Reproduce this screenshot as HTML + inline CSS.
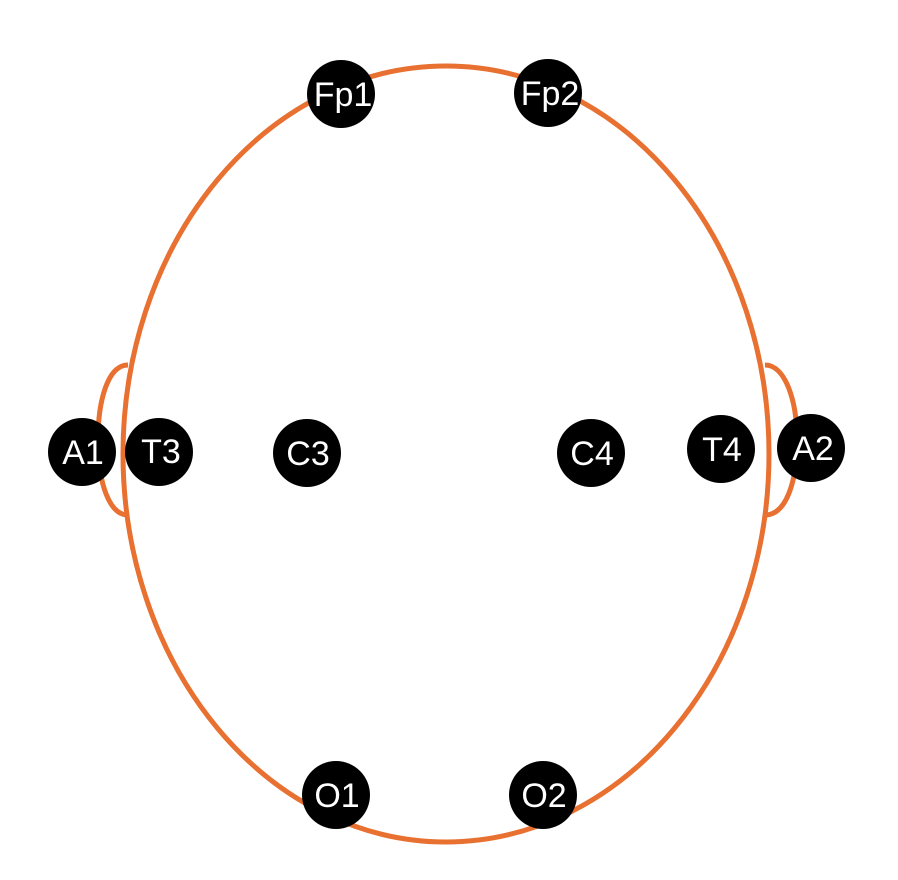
<!DOCTYPE html>
<html><head><meta charset="utf-8"><style>
html,body{margin:0;padding:0;background:#fff;}
svg{display:block}
text{font-family:"Liberation Sans Narrow","Liberation Sans",sans-serif;font-size:34px;fill:#fff;text-anchor:middle;dominant-baseline:central}
</style></head><body>
<svg width="898" height="880" viewBox="0 0 898 880">
<g fill="none" stroke="#E87030" stroke-width="5">
<path d="M128,365 C108,365 98,400 98,440 C98,485 110,515 128,515"/>
<path d="M765,365 C785,365 797,400 797,440 C797,485 785,515 765,515"/>
<ellipse cx="446" cy="454" rx="323" ry="388"/>
</g>
<g fill="#000">
<circle cx="341" cy="94" r="34"/><circle cx="548" cy="93" r="34"/>
<circle cx="82" cy="452" r="34"/><circle cx="159" cy="452" r="34"/>
<circle cx="307" cy="453" r="34"/><circle cx="591" cy="453" r="34"/>
<circle cx="721" cy="449" r="34"/><circle cx="811" cy="448" r="34"/>
<circle cx="336" cy="795" r="34"/><circle cx="543" cy="795" r="34"/>
</g>
<text x="343" y="95">Fp1</text><text x="550" y="94">Fp2</text>
<text x="83" y="453">A1</text><text x="161" y="452">T3</text>
<text x="308" y="454">C3</text><text x="592" y="454">C4</text>
<text x="722" y="450">T4</text><text x="813" y="449">A2</text>
<text x="337" y="796">O1</text><text x="544" y="796">O2</text>
</svg>
</body></html>
